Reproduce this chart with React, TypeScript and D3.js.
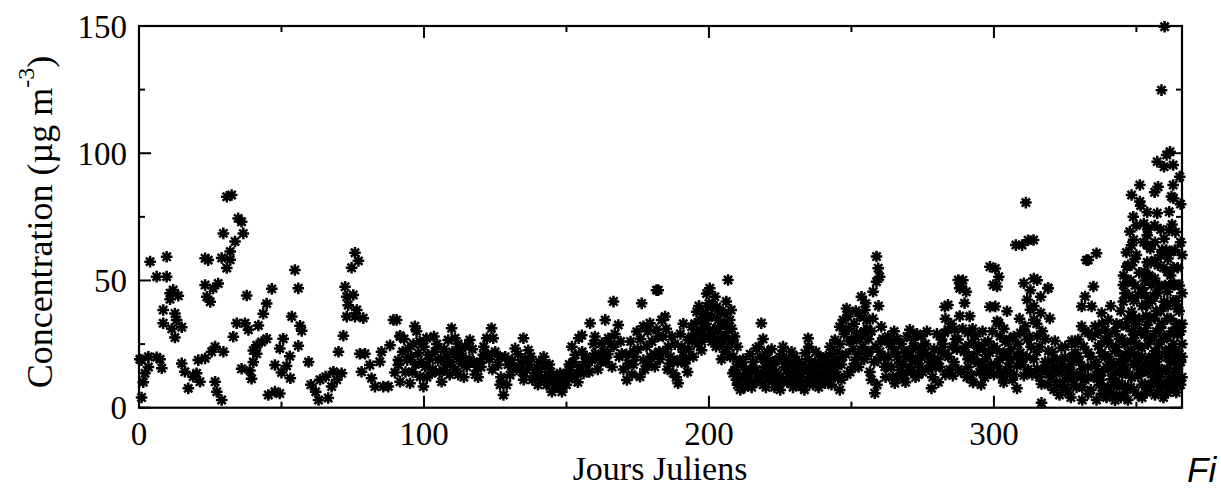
import React from 'react';
import * as d3 from 'd3';

type Pt = [number, number];

const xMajorTicks = [0, 100, 200, 300];
const xMinorTicks = [50, 150, 250, 350];
const yMajorTicks = [0, 50, 100, 150];
const yMinorTicks = [25, 75, 125];

const xLabel = 'Jours Juliens';
const yLabelMain = 'Concentration (µg m';
const yLabelSup = '-3';
const yLabelEnd = ')';

// Days 0-92
const winterSpring: Pt[] = [
  [0.3,19],[0.9,4],[1.5,10],[2.1,13.5],[3.3,16],[0.9,18.7],[3.3,20],[3.9,57.4],[6.2,51.5],[9.7,59.3],[9.7,51.5],[8,15.5],[7.4,19],[6.2,19.8],[10.9,45],[12,46.3],[13.8,44],[10.9,42.6],[8.5,38.4],[12.6,37],[8.5,33.2],[13.2,34.5],[15,31.6],[11.5,31],[12.6,27.6],[15,17.4],[16.1,14.1],[19,12.2],[17.3,7.6],[21.4,10.2],[20.2,13.5],[20.8,18.7],[23.2,19.4],[26.7,10.2],[27.3,6.3],[29,3],[23.2,58.7],[24.3,58],[23.2,48.2],[26,46.9],[27.8,48.8],[23.8,43.6],[25,41.6],[29.6,68.5],[30.8,82.9],[32.5,83.6],[34.8,74.4],[36,73.1],[36.6,68.5],[33.7,65.3],[32,61.4],[29,58.8],[32,58.1],[30.8,54.9],[26.7,24],[29.6,22],[25.5,22],[36,15.3],[38.9,14.6],[39.5,11.4],[33.1,27.9],[34.3,33.2],[37.2,33.2],[38.4,30.6],[37.8,44.1],[41.9,32.3],[40.1,22.5],[41.3,24.5],[43,25.8],[44.8,27.1],[43.6,36.9],[44.8,40.9],[46.6,46.7],[41.3,21.2],[40.1,18],[45.4,5],[47.7,6.3],[49.4,5.6],[47.7,16.8],[49.4,23.3],[50.6,27.1],[50,13.8],[51.8,16.4],[52.9,20.2],[53.6,35.8],[54.7,54.1],[55.9,46.9],[55.9,24.3],[56.5,32.2],[57.1,30.2],[59.5,18],[53.1,11.6],[60.3,9],[62,6.3],[63,3],[63.5,11],[65.5,12.2],[66.4,3.8],[67.6,8.3],[68.2,14.1],[69.4,11],[71.1,13.5],[70,22],[71.7,28.3],[72.3,47.5],[72.9,43.6],[73.4,40.3],[72.9,35.8],[75.2,44.3],[74.6,55],[75.8,60.9],[77,57.7],[76.4,38.4],[75.8,35.8],[78.7,35.2],[77.5,21.2],[78.1,14.1],[79.3,21.2],[81,16.8],[81.6,11.6],[82.8,8.3],[85.1,22],[84.5,18.1],[85.7,8.3],[87.5,8.3],[88.1,24.5],[89.3,34.5],[89.8,13.8],[91,18.7],[91.6,28.3]
];

// Days 90-183
const springSummer: Pt[] = [
  [90.4,34.5],[91.6,28],[91,16.8],[91.6,10.2],[94.5,23.3],[94.1,18.7],[95.1,9.6],[96.8,32],[97.4,30],[96.3,25],[98,21.4],[98.6,12.2],[99.8,8.3],[100.9,27.3],[100.4,16.1],[101.5,20.8],[102.7,13.5],[103.9,22],[105,18.7],[106.2,10.2],[106.8,14.8],[107.9,20],[108.5,26.6],[109.7,31.2],[110.9,27.3],[111.5,20],[112.6,22.6],[113.2,17.4],[115,16.1],[116.1,26.6],[118.5,16.1],[119.7,18.1],[120.8,20.8],[122,27.3],[123.7,31.2],[124.3,27.3],[126,16.8],[126.7,9],[127.9,5],[129,9],[130.2,12.8],[130.8,18.7],[132,23.3],[134.9,27.3],[136.6,22.6],[134,17.4],[136.1,14.8],[138.5,12.2],[142,20],[142.6,16.1],[140.2,14.1],[143.8,12.2],[144.9,6.3],[146.1,9.6],[148.4,6.3],[147.8,13.5],[149.6,11],[150.8,14.8],[151.9,24],[153.1,20.8],[154.3,27.3],[155.4,28.5],[153.7,13.5],[156,13.5],[157.2,17.4],[158.3,33.2],[158.9,18.7],[160.1,21.2],[161.3,20],[162.4,25.3],[163.6,34.5],[164.7,27.3],[166.5,41.7],[168.2,32.5],[166.5,24],[169.4,21.2],[171.2,10.9],[171.7,17.4],[173.5,22],[174.7,29.9],[175.8,12.2],[176.4,41],[177,18.7],[178.1,24],[179.3,33.2],[181.6,46.2],[182.2,28],[183.4,34.5],[181,16.1],
  [92.5,22],[93.5,14],[95.5,20],[97,17],[99,18],[100,24],[102,19],[103,15],[104.5,25],[105.5,14],[107,23],[108,17],[109,13],[110,22],[111,15],[112,25],[113.5,20],[114,12],[116,19],[117,23],[118,13],[120,16],[121,24],[123,19],[125,22],[127,12],[128.5,20],[131,16],[133,21],[134.5,14],[135.5,19],[137,17],[138,11],[139,15],[140.5,18],[141,11],[143,9],[144.5,14],[145.5,11],[147,8],[149,13],[150,9],[151,17],[152,12],[154.5,16],[155.5,22],[157,20],[159.5,25],[161,15],[163,22],[164,18],[165.5,25],[167,29],[168.5,20],[170,15],[172.5,26],[173,13],[174,20],[176,27],[177.5,15],[178.5,30],[179.5,20],[180,26],[182.5,22],
  [93,27],[96,14],[98.5,26],[101,12],[103.5,28],[106,19],[109.5,18],[112,13],[114.5,24],[117.5,18],[119,12],[122.5,21],[124,15],[126.5,20],[129.5,17],[132.5,15],[135,11],[137.5,20],[140,9],[142.5,12],[144,17],[146.5,12],[148,10],[150.5,12],[152.5,18],[154,10],[156.5,18],[158,14],[160,28],[162,18],[164.5,21],[166,16],[169,26],[171,21],[173.5,17],[175,23],[177,32],[179,17],[181,21]
];

// Days 181-275
const summerAutumn: Pt[] = [
  [182.2,46.2],[181.6,30.6],[182.8,19],[184.6,35.8],[183.9,28],[185.7,24],[186.3,17.4],[187.5,13.5],[189.2,9.6],[190.4,24],[191.6,17.4],[192.7,26.6],[193.9,31.8],[195.7,37.7],[196.8,34.5],[197.4,22.6],[198.6,27.9],[199.2,44.9],[199.7,39.6],[200.3,46.9],[202.1,43.6],[203.2,34.5],[202.7,39.6],[201.5,30.6],[204.4,19],[205,28],[206.1,41.7],[206.7,50.2],[207.3,34.5],[207.8,38.4],[209,28],[208.4,13.5],[209.6,11],[211.4,17.4],[212,12.2],[213.7,9.6],[214.9,14.8],[216.6,23.3],[218.4,33.2],[217.8,11],[219.6,16.1],[221.3,18.7],[222.5,12.2],[224.3,9.6],[226,24],[227.2,14.8],[228.4,18.7],[229.5,11],[231.3,13.5],[232.5,8.3],[233.7,21.4],[234.8,27.3],[236,14.8],[237.2,17.4],[238.9,12.2],[240.7,9.6],[241.8,16.1],[243,21.4],[244.2,26.6],[244.8,18.7],[245.9,31.8],[245.9,7],[247.1,34.5],[248.3,39],[248.8,35.8],[250,26.6],[251.2,18.7],[251.8,29.3],[253.5,43.6],[254.7,38.4],[255.3,34.5],[255.8,21.4],[257,11],[258.2,5.7],[257.6,45.6],[258.8,49.5],[259.4,54.8],[258.8,59.4],[259.9,51.5],[260.5,31.8],[259.4,18.7],[261.7,16.1],[262.9,28],[264.1,24],[265.2,9.6],[267,14.8],[268.8,21.4],[270.5,30.6],[271.7,26.6],[273.5,18.7],[274.6,24],
  [194,28],[195,33],[196,25],[197,30],[198,37],[199,33],[200,41],[201,36],[201,26],[202,30],[203,27],[204,38],[205,33],[205.5,22],[206,28],[207,24],[208,31],[185,31],[186.5,20],[188,25],[189,18],[190,29],[191,22],[192,19],[193,23],
  [184,22],[185.5,15],[187,28],[188.5,12],[190,19],[191,33],[192.5,14],[193.5,27],[194.5,20],[195.5,29],[196.5,40],[197.5,26],[198.5,31],[199.5,36],[200.5,29],[201.5,40],[202.5,24],[203.5,31],[204.5,25],[205.5,37],[206.5,31],[207.5,20],[208,26],
  [209,14],[210,9],[210.5,18],[211,12],[212.5,8],[213,15],[214,11],[215.5,18],[216,10],[217,13],[218,20],[219,9],[220,14],[220.5,22],[221,11],[222,16],[223,8],[223.5,14],[224.5,19],[225,12],[226.5,16],[227.5,10],[228.5,13],[229,22],[230,16],[230.5,9],[231.5,18],[232,12],[233,15],[234,10],[235,19],[235.5,12],[236.5,9],[237.5,22],[238,14],[239,17],[239.5,10],[240,13],[241,20],[242,12],[242.5,24],[243.5,16],[244,12],[245,22],[219,27],[225.5,21],
  [208.5,20],[209.5,16],[210,24],[211,7],[212,19],[213.5,13],[214.5,21],[215,8],[216.5,15],[217.5,24],[218.5,12],[219.5,19],[220,8],[221.5,14],[222,23],[223,18],[224,12],[225,7],[226,11],[227,19],[228,15],[229.5,8],[230,20],[231,11],[232.5,17],[233.5,7],[234.5,14],[235,24],[236,17],[237,11],[238.5,8],[239,20],[240.5,15],[241.5,11],[242,18],[243,9],[244.5,14],[245.5,12],
  [246,25],[246.5,17],[247.5,29],[248,21],[249,31],[249.5,14],[250.5,23],[251,33],[252,27],[252.5,16],[253,36],[254,24],[254.5,30],[255,41],[256,27],[256.5,14],[257.5,35],[258.5,24],[259,9],[260,22],[261,27],[262,12],[263,20],[264,16],[265,30],
  [246.5,11],[247,20],[248.5,13],[249.5,26],[250.5,16],[251.5,38],[252.5,21],[253.5,28],[254.5,19],[255.5,31],[256,22],[257,30],[258,18],[259.5,40],[260.5,26],[261.5,20],[262.5,16],[263.5,25],[264.5,12],[265.5,22],[266,27],[267,18],[268.5,13],[269.5,22],[270.5,16],[271.5,23],[272.5,19],[273.5,13],[274.5,20],
  [266,20],[266.5,12],[267.5,25],[268,17],[269,10],[269.5,28],[270,20],[271,14],[272,24],[272.5,12],[273,29],[274,16],[275,22]
];

// Days 272-366
const autumnWinter: Pt[] = [
  [359.9,149.7],[358.8,124.8],[361.8,100.6],[360.6,99.3],[357.3,96.7],[359.7,94.7],[362.9,95.4],[365.2,90.8],[351.2,87.5],[348.3,83.6],[351.2,81],[357.6,86.8],[356.4,84.7],[362.9,87.5],[362.3,83],[348.9,75],[352.6,72.4],[357.3,76.4],[361.5,77],[361.5,69.8],[347.7,69.2],[353.8,67.8],[354.9,62.5],[348.3,63.8],[346.6,55.4],[349.5,58.5],[353.8,57.2],[358.5,59.9],[362,61.2],[347.1,49.5],[351.8,46.9],[356.4,50.8],[360.9,53.4],[345.4,41.7],[348.3,37.7],[353.8,40.3],[359.7,41.6],[364.4,39],[344.8,32.6],[349.5,28.7],[353.8,32.6],[358.5,31.3],[363.2,30],[342.5,22.3],[347.1,19.7],[351.8,23.6],[356.4,22.3],[360.9,19.7],[365,21],[343.7,14.5],[348.3,11.9],[353,9.3],[357.6,14.5],[362.3,11.9],[342.5,2.9],[337.8,5.5],[333.1,5.5],
  [336,60.7],[333.1,58],[334.9,47.6],[332,43.7],[330.8,39.8],[334.3,39.8],[337.8,37.2],[339,30.7],[333.1,29.4],[329.6,26.8],[328.4,21.6],[333.1,21.6],[336.6,24.2],[331,15.2],[335.4,16.5],[327.3,11.9],[324.9,7.9],[322.6,14.5],[320.2,18.4],[321.4,26.2],[319.1,22.3],[316.7,9.3],[316.7,1.9],[319.6,35.1],[319,46.9],[316.4,43.6],[315.2,50.1],[314,50.8],[312.8,46.2],[311.7,42.4],[312.8,38.5],[316.4,37.2],[314,34.6],[310.5,48.9],[309.9,63.9],[313.9,65.9],[311.2,80.6],[309.3,29.4],[311.7,26.8],[315.2,28.1],[309.3,21.6],[314,19],[308.1,16.5],[310.5,12.6],[308.1,7.6],[315.2,15.2],[304.6,13.9],[303.4,21.6],[302.2,28.1],[301.1,34],[304.6,37.9],[301.7,33.3],[300.5,39.8],[301.1,47.6],[301.7,51.5],[300.5,54.7],[296.8,25.5],[298.6,21.6],[294.5,17.7],[292.7,9.9],[295,13.9],[290.9,19],[292.1,25.5],[290.9,29.4],[291.5,35.9],[289.7,41.1],[290.3,45.6],[289.1,50.1],[288.5,47.6],[287.4,26.8],[286.2,30.7],[283.9,30.7],[283.9,40.4],[282.7,29.4],[281.6,26.8],[285.6,12.6],[282.7,21.6],[280.4,19],[278.1,7.6],[277,15.2],[275.8,21.6],[274.6,28.1],[272.3,18.4],[296.8,11.9],[301.1,16.5],[305.7,19],[303.4,9.9],[318.5,14.5],[324.9,19.7],[327.3,26.2],[323.7,23.6],[330.8,32],[336.6,29.4],[340.1,34.6],[340.1,15.2],[341.3,11.2],[337.8,21.6],[344.8,20.4],[345.9,8.6],[350.6,12.5],[355.3,16.5],[359.9,8.6],[364.4,11.2],[364.4,15.2],[360.9,15.2],[354,13.9],[349.5,35.1],[352.9,28.7],[356.4,35.1],[360.9,35.1],[364.4,28.7],[350.6,44.3],[355.3,48.2],[360.9,45.6],[363.2,48.2],[352.9,53.4],[357.6,56],[361.1,58.6],[348.3,56],[345.4,48.2],[353.8,63.9],[359.7,66.4],[363.7,69],[356.4,71.6],[350,71.6],[353.8,76.8],[351.5,79.4],[347.1,56],
  [307.7,63.9],[312,65.8],[332.5,58],[298.6,55.4],[299.8,48.2],[319,47],[363,82.3],[282.8,39.7],[287.5,50.2],[288,46.9],[298.6,39.7],
  [276,25],[277.5,18],[278.5,12],[279,23],[280,29],[281,16],[282,25],[283,13],[284,20],[285,33],[286,18],[287,23],[288,36],[288.5,14],[289,31],[290,24],[291,16],[292,13],[293,19],[293.5,28],[294,22],[295.5,9],[296,16],[297,19],[297.5,13],[298,26],[299,17],[300,13],[300,24],[302,19],[303,12],[304,26],[305,16],[306,23],[306.5,11],[307,28],[308,20],[309,35],[310,19],[311,32],[312,15],[313,24],[314,40],[315,22],[316,12],[317,30],[318,18],[319,9],[320,12],[321,16],[322,10],[323,14],[324,17],[325,11],[326,6],[326.5,15],[327.5,20],[328,9],[329,13],[330,18],[331,8],[331.5,24],[332,11],[333,16],[334,7],[334.5,28],[335,12],[336,18],[337,9],[338,14],[338.5,26],[339,20],[340,8],[340.5,25],[341,18],[342,13],[342.5,30],[343,24],[344,9],[344.5,38],[345,27],[345.5,17],[346,45],[346.5,32],[347,22],[347.5,13],[348,50],[348.5,30],[349,17],[349,42],[350,25],[350,60],[351,35],[351,15],[352,40],[352,20],[352.5,65],[353,30],[353,50],[354,25],[354,43],[354.5,8],[355,35],[355,57],[355.5,20],[356,28],[356,44],[356.5,65],[357,18],[357,38],[357.5,10],[358,25],[358,48],[358.5,70],[359,33],[359,15],[359.5,55],[360,22],[360,40],[360.5,62],[361,28],[361,10],[361.5,48],[362,35],[362,18],[362.5,72],[363,25],[363,55],[363.5,14],[364,42],[364,33],[364.5,20],[365,48],[365,10],[365.5,65],[365.5,30],[365.5,80],
  [275,14],[276.5,30],[278,20],[279.5,16],[280.5,10],[281.5,22],[283,35],[284.5,15],[285.5,24],[286.5,27],[287.5,15],[289.5,22],[290.5,12],[291.5,20],[292.5,31],[294.5,24],[296,30],[297,22],[298.5,15],[299.5,30],[301,23],[302.5,14],[303.5,31],[304.5,20],[305.5,27],[307,13],[308.5,25],[309.5,17],[310.5,30],[311.5,20],[312.5,28],[313.5,13],[315,33],[316,24],[317.5,15],[318,27],[319.5,13],[320.5,22],[322,19],[323.5,9],[325,24],[326,13],[327,17],[328.5,25],[329.5,20],[330.5,12],[332,30],[333,12],[334,20],[335.5,32],[336.5,14],[337.5,11],[338,33],[339.5,16],
  [340,28],[341,40],[342,17],[343,33],[343.5,9],[344,27],[345,13],[345.5,52],[346,25],[346.5,61],[347,35],[347.5,44],[348,8],[348.5,22],[349,66],[349.5,48],[350,33],[350.5,18],[351,53],[351.5,30],[352,9],[352.5,45],[353,17],[353.5,36],[354,70],[354.5,52],[355,27],[355.5,42],[356,12],[356.5,58],[357,30],[357.5,45],[358,20],[358.5,38],[359,62],[359.5,27],[360,48],[360.5,14],[361,40],[361.5,23],[362,52],[362.5,30],[363,42],[363.5,62],[364,22],[364.5,55],[365,38],[365.5,18],[366,45],[366,25],[366,60],[366,12],
  [336,3],[338.5,8],[339.5,4],[341,6],[343,5],[344.5,4],[346,6],[347,3],[349,7],[350.5,5],[352,4],[353.5,6],[355,9],[356.5,5],[358,7],[359.5,4],[361,6],[362.5,8],[364,6],[365.5,9],[346,15],[348,26],[350,20],[352,14],[354,19],[356,16],[358,12],[360,28],[362,22],[364,17],[366,33],[366,20],[344,18],[342,9],[340,20],[327,4],[329,8],[321,7],[323,5],[331,3]
];

const allPoints: Pt[] = [...winterSpring, ...springSummer, ...summerAutumn, ...autumnWinter];

const W = 1221;
const H = 489;
const L = 139, R = 1182, T = 26, B = 407.7;

const x = d3.scaleLinear().domain([0, 366]).range([L, R]);
const y = d3.scaleLinear().domain([0, 150]).range([B, T]);

const star = 'M-5.8,0L5.8,0M0,-5.8L0,5.8M-4.1,-4.1L4.1,4.1M-4.1,4.1L4.1,-4.1';

const serif = '"Liberation Serif", "Times New Roman", serif';

export default function App() {
  const major = 12, minor = 6;
  return (
    <svg width={W} height={H} style={{ position: 'absolute', left: 0, top: 0, background: '#fff' }}>
      <rect x={0} y={0} width={W} height={H} fill="#fff" />
      <g>
        {allPoints.map((p, i) => (
          <g key={i} transform={`translate(${x(p[0])},${y(p[1])})`}>
            <path d={star} stroke="#000" strokeWidth={2.5} fill="none" />
            <circle r={3} fill="#000" />
          </g>
        ))}
      </g>
      <rect x={L} y={T} width={R - L} height={B - T} fill="none" stroke="#000" strokeWidth={2.2} />
      {xMajorTicks.map(t => (
        <g key={'xm' + t}>
          <line x1={x(t)} x2={x(t)} y1={B} y2={B - major} stroke="#000" strokeWidth={2} />
          <line x1={x(t)} x2={x(t)} y1={T} y2={T + major} stroke="#000" strokeWidth={2} />
          <text x={x(t)} y={445} textAnchor="middle" fontFamily={serif} fontSize={33}>{t}</text>
        </g>
      ))}
      {xMinorTicks.map(t => (
        <g key={'xn' + t}>
          <line x1={x(t)} x2={x(t)} y1={B} y2={B - minor} stroke="#000" strokeWidth={2} />
          <line x1={x(t)} x2={x(t)} y1={T} y2={T + minor} stroke="#000" strokeWidth={2} />
        </g>
      ))}
      {yMajorTicks.map(t => (
        <g key={'ym' + t}>
          <line x1={L} x2={L + major} y1={y(t)} y2={y(t)} stroke="#000" strokeWidth={2} />
          <line x1={R} x2={R - major} y1={y(t)} y2={y(t)} stroke="#000" strokeWidth={2} />
          <text x={127} y={y(t) + 11.5} textAnchor="end" fontFamily={serif} fontSize={33}>{t}</text>
        </g>
      ))}
      {yMinorTicks.map(t => (
        <g key={'yn' + t}>
          <line x1={L} x2={L + minor} y1={y(t)} y2={y(t)} stroke="#000" strokeWidth={2} />
          <line x1={R} x2={R - minor} y1={y(t)} y2={y(t)} stroke="#000" strokeWidth={2} />
        </g>
      ))}
      <text x={660} y={480} textAnchor="middle" fontFamily={serif} fontSize={34}>{xLabel}</text>
      <text transform="translate(52,222) rotate(-90)" textAnchor="middle" fontFamily={serif} fontSize={36}>
        {yLabelMain}
        <tspan fontSize={24} dy={-18}>{yLabelSup}</tspan>
        <tspan dy={18}>{yLabelEnd}</tspan>
      </text>
      <text x={1187} y={482} fontFamily='"Liberation Sans", Arial, sans-serif' fontStyle="italic" fontSize={35}>Fi</text>
    </svg>
  );
}
